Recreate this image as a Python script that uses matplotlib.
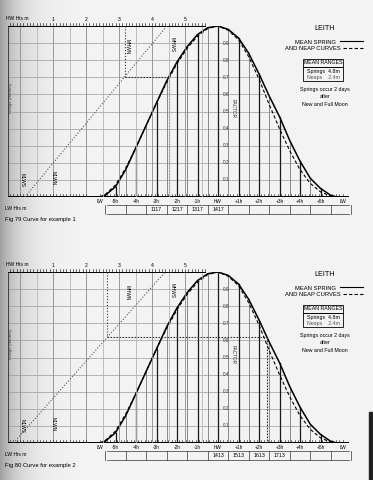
import numpy as np
import matplotlib.pyplot as plt
from matplotlib.patches import Rectangle

plt.rcParams['font.family'] = ['Liberation Sans', 'DejaVu Sans']

# Leith mean tidal curves: hours from HW and factor of range
hours = [-5.75, -5.5, -5.0, -4.5, -4.0, -3.5, -3.0, -2.5, -2.0, -1.5, -1.0, -0.5, 0.0,
         0.5, 1.0, 1.5, 2.0, 2.5, 3.0, 3.5, 4.0, 4.5, 5.0, 5.5, 5.8]
spring_factor = [0.0, 0.01, 0.06, 0.16, 0.29, 0.42, 0.55, 0.68, 0.79, 0.88, 0.95, 0.99, 1.0,
                 0.98, 0.93, 0.84, 0.72, 0.59, 0.47, 0.33, 0.21, 0.11, 0.05, 0.01, 0.0]
neap_factor = [0.0, 0.015, 0.07, 0.17, 0.29, 0.42, 0.55, 0.67, 0.78, 0.87, 0.94, 0.985, 1.0,
               0.975, 0.92, 0.82, 0.69, 0.54, 0.40, 0.27, 0.16, 0.08, 0.03, 0.005, 0.0]

hour_ticks = [-5.75, -5, -4, -3, -2, -1, 0, 1, 2, 3, 4, 5, 6.1]
hour_labels = ['LW', '-5h', '-4h', '-3h', '-2h', '-1h', 'HW', '+1h', '+2h', '+3h', '+4h', '+5h', 'LW']
factor_levels = [0.1, 0.2, 0.3, 0.4, 0.5, 0.6, 0.7, 0.8, 0.9]
height_labels = [1, 2, 3, 4, 5]

# example 1: predicted LW / HW heights (m), height wanted, rising tide
ex1_lw, ex1_hw, ex1_height = 0.15, 4.45, 3.18
ex1_cell_hours = [-3, -2, -1, 0]
ex1_cell_times = ['1117', '1217', '1317', '1417']
# example 2: falling tide
ex2_lw, ex2_hw, ex2_height = -0.2, 4.4, 2.64
ex2_cell_hours = [0, 1, 2, 3]
ex2_cell_times = ['1413', '1513', '1613', '1713']

W, H = 373, 480
fig = plt.figure(figsize=(W / 100, H / 100), dpi=100)

# scanned page background, shaded towards the spine
bg = fig.add_axes([0, 0, 1, 1], zorder=-10)
xs = np.arange(W)
shade = 0.955 - 0.33 * np.exp(-xs / 20.0)
bg.imshow(np.tile(shade, (H, 1)), cmap='gray', vmin=0, vmax=1, aspect='auto')
bg.axis('off')
fig.add_artist(Rectangle((369 / W, 0), 4 / W, 68 / H, color='#202020', transform=fig.transFigure))

HW_PX, PX_H = 218, 20.5     # pixel of HW, pixels per hour
M0_PX, PX_M = 20, 33        # pixel of 0 m, pixels per metre
LEFT, RIGHT = 8, 355

hours_a = np.array(hours)
spring_a = np.array(spring_factor)
ipk = int(np.argmax(spring_a))


def m_to_h(m):
    return (M0_PX + PX_M * m - HW_PX) / PX_H


def fall_time(f):
    return np.interp(f, spring_a[ipk:][::-1], hours_a[ipk:][::-1])


def rise_time(f):
    return np.interp(f, spring_a[:ipk + 1], hours_a[:ipk + 1])


def fx(px):
    return px / W


def fy(py):
    return 1 - py / H


def panel(top, base, lw, hw, hval, rising, cell_hours, cell_times, caption, dy):
    ax = fig.add_axes([fx(LEFT), fy(base), (RIGHT - LEFT) / W, (base - top) / H])
    ax.set_xlim((LEFT - HW_PX) / PX_H, (RIGHT - HW_PX) / PX_H)
    ax.set_ylim(0, 1)
    ax.axis('off')
    axh = ax.twiny()
    axh.set_xlim((LEFT - M0_PX) / PX_M, (RIGHT - M0_PX) / PX_M)
    axh.axis('off')
    x0 = ax.get_xlim()[0]
    m0 = axh.get_xlim()[0]

    # grid of the form
    for f in factor_levels:
        ax.plot([x0, fall_time(f)], [f, f], color='#9a9a9a', lw=0.5)
    for m in np.arange(0, 5.51, 0.5):
        axh.plot([m, m], [0, 1], color='#8a8a8a' if m % 1 == 0 else '#b5b5b5', lw=0.6)
    ax.plot([x0, x0], [0, 1], color='#444444', lw=0.8)
    for h in np.arange(-5.5, 5.6, 0.5):
        top_f = np.interp(h, hours, spring_factor)
        dark = h % 1 == 0
        ax.plot([h, h], [0, top_f], color='#1a1a1a' if dark else '#777777', lw=0.9 if dark else 0.6)

    # HW height scale (top) and baseline
    axh.plot([m0, 5.6], [1, 1], color='black', lw=1.4)
    for m in np.arange(-0.3, 5.61, 0.1):
        axh.plot([m, m], [1, 1.018], color='black', lw=0.4, clip_on=False)
    for m in height_labels:
        axh.text(m, 1.025, str(m), fontsize=3.6, ha='center', va='bottom', clip_on=False)
    ax.plot([x0, 6.35], [0, 0], color='black', lw=1.4)
    for m in np.arange(-0.3, 2.01, 0.1):
        axh.plot([m, m], [0, 0.02], color='black', lw=0.4)
    for h in np.arange(-5.75, 6.2, 1 / 6):
        ax.plot([h, h], [0, 0.02], color='black', lw=0.4)
    for h, lab in zip(hour_ticks, hour_labels):
        ax.text(h, -0.012, lab, fontsize=3.4, ha='center', va='top', clip_on=False)

    # curves
    ax.plot(hours, spring_factor, color='black', lw=1.1)
    ax.plot(hours, neap_factor, color='black', lw=0.8, dashes=(3, 2))

    # factor scale on HW line
    for f in factor_levels:
        ax.text(0.22, f, '%.1f' % f, fontsize=3.4, va='center', ha='left', color='#333333')
    ax.text(0.72, 0.52, 'FACTOR', fontsize=3.4, rotation=270, ha='center', va='center', color='#333333')

    # range diagonal and construction
    axh.plot([lw, hw], [0, 1], color='#555555', lw=0.8, ls=':')
    f = (hval - lw) / (hw - lw)
    t = rise_time(f) if rising else fall_time(f)
    axh.plot([hval, hval], [1, f], color='#333333', lw=0.8, ls=':')
    ax.plot([m_to_h(hval), t], [f, f], color='#333333', lw=0.8, dashes=(1.5, 1.2))
    ax.plot([t, t], [f, 0], color='#333333', lw=0.8, dashes=(1.5, 1.2))

    # labels of the height grid
    for m, yv, lab in [(0.05, 0.10, 'MLWS'), (1.0, 0.11, 'MLWN'), (3.25, 0.88, 'MHWN'), (4.6, 0.89, 'MHWS')]:
        axh.text(m, yv, lab, fontsize=3.4, rotation=270, ha='center', va='center')
    ax.text(x0 + 0.03, 0.58, 'Range (metres)', fontsize=3.2, rotation=90, ha='left', va='center', color='#444444')
    fig.text(fx(6), fy(top - 7), 'HW Hts m', fontsize=3.6, ha='left', va='center')
    fig.text(fx(5), fy(base + 11), 'LW Hts m', fontsize=3.6, ha='left', va='center')
    fig.text(fx(5), fy(base + 23), caption, fontsize=4.2, ha='left', va='center')

    # time strip under the curve
    s_top, s_bot = -0.045, -0.10
    ax.plot([-5.4, 6.4], [s_top, s_top], color='#333333', lw=0.5, clip_on=False)
    ax.plot([-5.4, 6.4], [s_bot, s_bot], color='#333333', lw=0.5, clip_on=False)
    for h in np.arange(-5.5, 6.6, 1.0):
        ax.plot([h, h], [s_top, s_bot], color='#333333', lw=0.5, clip_on=False)
    for h, lab in zip(cell_hours, cell_times):
        ax.text(h, (s_top + s_bot) / 2, lab, fontsize=3.8, ha='center', va='center', clip_on=False)

    # title block on the right
    fig.text(fx(325), fy(28 + dy), 'LEITH', fontsize=5.2, ha='center', va='center')
    fig.text(fx(336), fy(42 + dy), 'MEAN SPRING', fontsize=4.2, ha='right', va='center')
    fig.text(fx(341), fy(48 + dy), 'AND NEAP CURVES', fontsize=4.2, ha='right', va='center')
    ax.plot([(340 - HW_PX) / PX_H, (363 - HW_PX) / PX_H], [1 - 15 / 171] * 2,
            color='black', lw=0.8, clip_on=False)
    ax.plot([(343 - HW_PX) / PX_H, (363 - HW_PX) / PX_H], [1 - 22 / 171] * 2,
            color='black', lw=0.8, dashes=(3, 2), clip_on=False)
    fig.add_artist(Rectangle((fx(303), fy(67 + dy)), 40 / W, 8 / H, fill=False, lw=0.6,
                             edgecolor='black', transform=fig.transFigure))
    fig.add_artist(Rectangle((fx(303), fy(81 + dy)), 40 / W, 14 / H, fill=False, lw=0.6,
                             edgecolor='black', transform=fig.transFigure))
    fig.text(fx(323), fy(63 + dy), 'MEAN RANGES', fontsize=3.8, ha='center', va='center')
    fig.text(fx(307), fy(71 + dy), 'Springs  4.8m', fontsize=3.8, ha='left', va='center')
    fig.text(fx(307), fy(77 + dy), 'Neaps    2.4m', fontsize=3.8, ha='left', va='center', color='#555555')
    fig.text(fx(325), fy(90 + dy), 'Springs occur 2 days', fontsize=3.8, ha='center', va='center')
    fig.text(fx(325), fy(97 + dy), 'after', fontsize=3.8, ha='center', va='center')
    fig.text(fx(325), fy(104 + dy), 'New and Full Moon', fontsize=3.8, ha='center', va='center')


panel(26, 197, ex1_lw, ex1_hw, ex1_height, True, ex1_cell_hours, ex1_cell_times,
      'Fig 79 Curve for example 1', 0)
panel(272, 443, ex2_lw, ex2_hw, ex2_height, False, ex2_cell_hours, ex2_cell_times,
      'Fig 80 Curve for example 2', 246)

fig.savefig('out.png', dpi=100)
